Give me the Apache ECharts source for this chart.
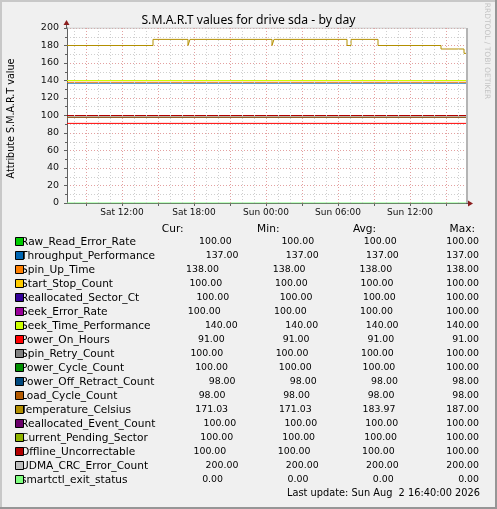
<!DOCTYPE html>
<html><head><meta charset="utf-8">
<script src="https://cdn.jsdelivr.net/npm/echarts@6/dist/echarts.min.js"></script>
<style>html,body{margin:0;padding:0;background:#f0f0f0}#c{width:497px;height:509px}</style>
</head><body><div id="c"></div>
<script>
// ---------------- data ----------------
const chartTitle = 'S.M.A.R.T values for drive sda - by day';
const yAxisName = 'Attribute S.M.A.R.T value';
const sideText = 'RRDTOOL / TOBI OETIKER';
const timeRange = ['Sat 07:25', 'Sun 16:40'];
const timeTickLabels = ['Sat 12:00', 'Sat 18:00', 'Sun 00:00', 'Sun 06:00', 'Sun 12:00'];
const yMin = 0, yMax = 200, yStep = 20;

const fieldNames = ['Raw_Read_Error_Rate', 'Throughput_Performance', 'Spin_Up_Time', 'Start_Stop_Count',
  'Reallocated_Sector_Ct', 'Seek_Error_Rate', 'Seek_Time_Performance', 'Power_On_Hours', 'Spin_Retry_Count',
  'Power_Cycle_Count', 'Power_Off_Retract_Count', 'Load_Cycle_Count', 'Temperature_Celsius',
  'Reallocated_Event_Count', 'Current_Pending_Sector', 'Offline_Uncorrectable', 'UDMA_CRC_Error_Count',
  'smartctl_exit_status'];
// constant series over the whole day (null = varying series below)
const constantValues = [100, 137, 138, 100, 100, 100, 140, 91, 100, 100, 98, 98, null, 100, 100, 100, 200, 0];
const temperatureTimes = ['Sat 07:25', 'Sat 14:35', 'Sat 17:30', 'Sat 17:40', 'Sun 00:30', 'Sun 00:40',
  'Sun 06:45', 'Sun 07:05', 'Sun 09:20', 'Sun 14:35', 'Sun 16:30', 'Sun 16:40'];
const temperatureValues = [180, 187, 180, 187, 180, 187, 180, 187, 180, 176, 171.03, 171.03];

const columnHeaders = ['Cur:', 'Min:', 'Avg:', 'Max:'];
const curValues = [100, 137, 138, 100, 100, 100, 140, 91, 100, 100, 98, 98, 171.03, 100, 100, 100, 200, 0];
const minValues = [100, 137, 138, 100, 100, 100, 140, 91, 100, 100, 98, 98, 171.03, 100, 100, 100, 200, 0];
const avgValues = [100, 137, 138, 100, 100, 100, 140, 91, 100, 100, 98, 98, 183.97, 100, 100, 100, 200, 0];
const maxValues = [100, 137, 138, 100, 100, 100, 140, 91, 100, 100, 98, 98, 187, 100, 100, 100, 200, 0];
const lastUpdate = 'Last update: Sun Aug  2 16:40:00 2026';

// ---------------- styles ----------------
const fieldColors = ['#00CC00', '#0066B3', '#FF8000', '#FFCC00', '#330099', '#990099', '#CCFF00', '#FF0000',
  '#808080', '#008F00', '#00487D', '#B35A00', '#B38F00', '#6B006B', '#8FB300', '#B30000', '#BEBEBE', '#80FF80'];
const FAMILY = '"DejaVu Sans", sans-serif';
const TITLE_FAMILY = '"Noto Sans", sans-serif';
const MINOR_GRID = '#cfcfcf', MAJOR_GRID = '#e3a0a0';

function toHours(s) {
  const [d, t] = s.split(' ');
  const [h, m] = t.split(':').map(Number);
  return (d === 'Sun' ? 24 : 0) + h + m / 60;
}
const xMin = toHours(timeRange[0]), xMax = toHours(timeRange[1]);
const tickHours = timeTickLabels.map(toHours);

const chart = echarts.init(document.getElementById('c'), null, { renderer: 'canvas', width: 497, height: 509 });

const vGrid = [];
for (let h = Math.ceil(xMin); h <= Math.floor(xMax); h++) {
  vGrid.push({ xAxis: h, lineStyle: { color: h % 3 === 0 ? MAJOR_GRID : MINOR_GRID, type: [1, 2], width: 1 } });
}

const series = [{
  type: 'line', data: [], silent: true, animation: false,
  markLine: { silent: true, symbol: ['none', 'none'], label: { show: false }, animation: false, data: vGrid }
}];
fieldNames.forEach((n, i) => {
  const data = constantValues[i] === null
    ? temperatureTimes.map((t, j) => [toHours(t), temperatureValues[j]])
    : [[xMin, constantValues[i]], [xMax, constantValues[i]]];
  series.push({
    type: 'line', name: n, data, step: 'end', symbol: 'none', showSymbol: false, animation: false,
    lineStyle: { color: fieldColors[i], width: 1 }, itemStyle: { color: fieldColors[i] }, silent: true
  });
});

chart.setOption({
  backgroundColor: '#f0f0f0',
  animation: false,
  grid: { left: 67, top: 28, width: 399, height: 175, show: true, backgroundColor: '#ffffff', borderWidth: 0 },
  xAxis: {
    type: 'value', min: xMin, max: xMax,
    axisLine: { show: true, lineStyle: { color: '#606060', width: 1 } },
    axisTick: { show: true, length: 3, customValues: [9, 12, 15, 18, 21, 24, 27, 30, 33, 36, 39], lineStyle: { color: '#606060' } },
    axisLabel: {
      customValues: tickHours, margin: 5, color: '#111', fontFamily: FAMILY, fontSize: 9,
      formatter: v => timeTickLabels[tickHours.findIndex(t => Math.abs(t - v) < 1e-6)] || ''
    },
    splitLine: { show: false }
  },
  yAxis: {
    type: 'value', min: yMin, max: yMax, interval: yStep,
    axisLine: { show: true, lineStyle: { color: '#606060', width: 1 } },
    axisTick: { show: true, length: 3, lineStyle: { color: '#606060' } },
    minorTick: { show: true, splitNumber: 2, length: 2, lineStyle: { color: '#606060' } },
    axisLabel: { margin: 8, color: '#111', fontFamily: FAMILY, fontSize: 9.5 },
    splitLine: { show: true, lineStyle: { color: MAJOR_GRID, type: [1, 2], width: 1 } },
    minorSplitLine: { show: true, lineStyle: { color: MINOR_GRID, type: [1, 2], width: 1 } }
  },
  series
});

// ---------------- decorations & legend ----------------
const topLeft = chart.convertToPixel({ gridIndex: 0 }, [xMin, yMax]);
const botRight = chart.convertToPixel({ gridIndex: 0 }, [xMax, yMin]);
const ARROW = '#8b1e1e';

const labelFont = `10.6px ${FAMILY}`;
const valueFont = `9.4px ${FAMILY}`;
const mctx = document.createElement('canvas').getContext('2d');
const mw = (s, f) => { mctx.font = f; return mctx.measureText(s).width; };
const fmt = v => v.toFixed(2).padStart(6, ' ');
const padLen = Math.max(...fieldNames.map(n => n.length));

const boxX = 15, textX = 21, rightX = 479, headerRightX = 475;
const rowTop = 242, rowStep = 14, headerY = 229;

const g = [];
function txt(s, x, y, font, opts) {
  g.push({
    type: 'text', x, y, z: 10,
    style: Object.assign({ text: s, font, fill: '#000', align: 'left', verticalAlign: 'middle',
      textAlign: 'left', textVerticalAlign: 'middle' }, opts || {})
  });
}
function valText(s, x, y) {
  const lead = s.length - s.trimStart().length;
  txt(s.trimStart(), x + mw(' '.repeat(lead), valueFont), y, valueFont);
}

// borders
g.push({ type: 'rect', shape: { x: 0, y: 0, width: 497, height: 2 }, style: { fill: '#c8c8c8' }, z: 20 });
g.push({ type: 'rect', shape: { x: 0, y: 0, width: 2, height: 509 }, style: { fill: '#c8c8c8' }, z: 20 });
g.push({ type: 'rect', shape: { x: 0, y: 507, width: 497, height: 2 }, style: { fill: '#969696' }, z: 21 });
g.push({ type: 'rect', shape: { x: 495, y: 0, width: 2, height: 509 }, style: { fill: '#969696' }, z: 21 });

// title, axis name, side text
txt(chartTitle, 248.5, 21, `12.2px ${TITLE_FAMILY}`, { align: 'center', textAlign: 'center' });
g.push({ type: 'text', x: 11, y: (topLeft[1] + botRight[1]) / 2 + 3, rotation: Math.PI / 2, z: 10,
  style: { text: yAxisName, font: `9.6px ${FAMILY}`, fill: '#000', align: 'center', verticalAlign: 'middle',
    textAlign: 'center', textVerticalAlign: 'middle' } });
g.push({ type: 'text', x: 487, y: 51, rotation: -Math.PI / 2, z: 10,
  style: { text: sideText, font: `7.5px ${FAMILY}`, fill: '#c4c4c4', align: 'center', verticalAlign: 'middle',
    textAlign: 'center', textVerticalAlign: 'middle' } });

// plot frame on the right, axis extensions and arrows
g.push({ type: 'rect', shape: { x: botRight[0], y: topLeft[1], width: 2, height: botRight[1] - topLeft[1] },
  style: { fill: '#b4b4b4' }, z: 5 });
g.push({ type: 'line', shape: { x1: topLeft[0] - 0.5, y1: topLeft[1], x2: topLeft[0] - 0.5, y2: topLeft[1] - 3 },
  style: { stroke: '#606060', lineWidth: 1 }, z: 6 });
g.push({ type: 'line', shape: { x1: botRight[0], y1: botRight[1] + 0.5, x2: botRight[0] + 3, y2: botRight[1] + 0.5 },
  style: { stroke: '#606060', lineWidth: 1 }, z: 6 });
g.push({ type: 'polygon', shape: { points: [[topLeft[0] - 3.5, topLeft[1] - 3], [topLeft[0] + 2.5, topLeft[1] - 3], [topLeft[0] - 0.5, topLeft[1] - 8]] },
  style: { fill: ARROW }, z: 7 });
g.push({ type: 'polygon', shape: { points: [[botRight[0] + 2, botRight[1] - 2.5], [botRight[0] + 2, botRight[1] + 3.5], [botRight[0] + 7, botRight[1] + 0.5]] },
  style: { fill: ARROW }, z: 7 });

// header row (justified)
{
  const w0 = mw(' '.repeat(padLen - 3), labelFont);
  const ws = columnHeaders.map(h => mw(h, labelFont));
  const gap = (headerRightX - textX - w0 - ws.reduce((a, b) => a + b, 0)) / columnHeaders.length;
  let x = textX + w0 + gap;
  columnHeaders.forEach((h, k) => { txt(h, x, headerY, labelFont); x += ws[k] + gap; });
}

// legend rows (rrdtool-style justified)
fieldNames.forEach((n, i) => {
  const y = rowTop + rowStep * i;
  const label = n.padEnd(padLen, ' ');
  const vals = [curValues[i], minValues[i], avgValues[i], maxValues[i]].map(fmt);
  const ws = vals.map(s => mw(s, valueFont));
  const w0 = mw(label, labelFont);
  const gap = (rightX - textX - w0 - ws.reduce((a, b) => a + b, 0)) / vals.length;
  txt(n, textX, y, labelFont);
  let x = textX + w0 + gap;
  vals.forEach((s, k) => { valText(s, x, y); x += ws[k] + gap; });
  g.push({ type: 'rect', shape: { x: boxX + 0.5, y: Math.round(y) - 4.5, width: 8, height: 8 },
    style: { fill: fieldColors[i], stroke: '#000', lineWidth: 1 }, z: 12 });
});

// last update (right aligned)
txt(lastUpdate, rightX + 1, rowTop + rowStep * fieldNames.length - 1, `9.8px ${FAMILY}`, { align: 'right', textAlign: 'right' });

chart.setOption({ graphic: { elements: g } });
</script>
</body></html>
